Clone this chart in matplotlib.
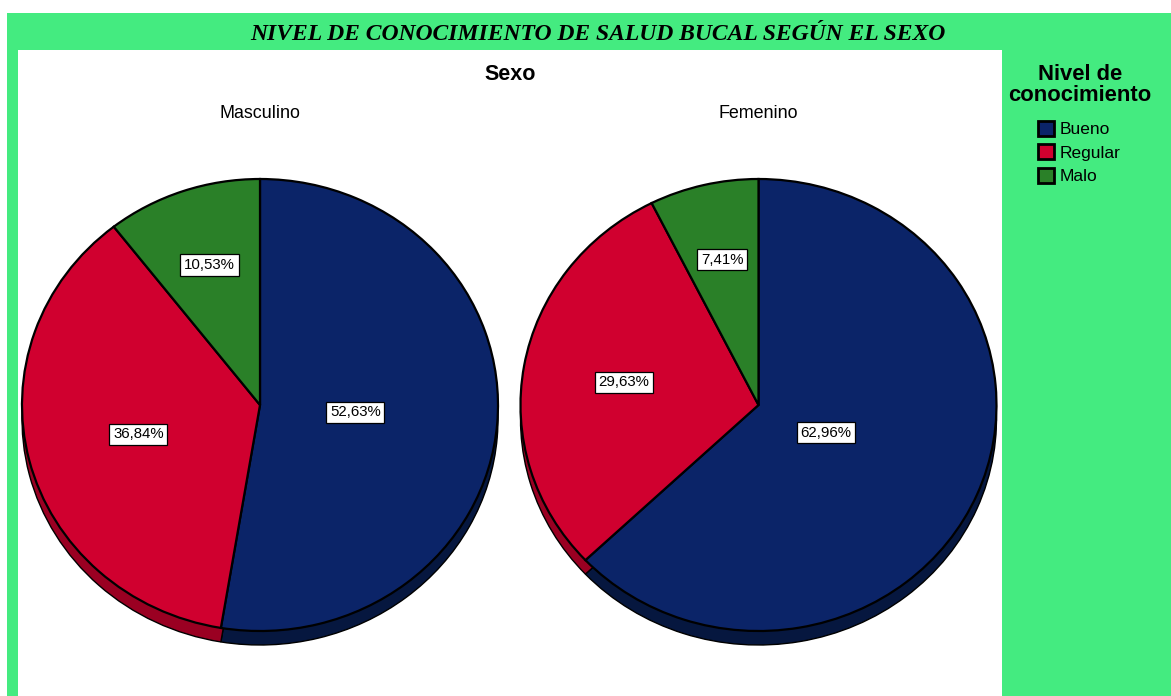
import matplotlib
matplotlib.use("Agg")
import matplotlib.pyplot as plt
from matplotlib.patches import Rectangle
import numpy as np

# ---- data ----
categories = ["Bueno", "Regular", "Malo"]
groups = ["Masculino", "Femenino"]
masculino_pct = [52.63, 36.84, 10.53]
femenino_pct = [62.96, 29.63, 7.41]
pct_labels_masc = ["52,63%", "36,84%", "10,53%"]
pct_labels_fem = ["62,96%", "29,63%", "7,41%"]

chart_title = "NIVEL DE CONOCIMIENTO DE SALUD BUCAL SEGÚN EL SEXO"
panel_title = "Sexo"
legend_title = "Nivel de\nconocimiento"

top_colors = ["#0B2468", "#D0002F", "#2A8028"]
side_colors = ["#06173F", "#9A0022", "#1B5A1A"]
green = "#44EB80"

W, H = 1171, 696
fig = plt.figure(figsize=(W / 100, H / 100), dpi=100)
fig.patch.set_facecolor("white")


def fx(x):
    return x / W


def fy(y):
    return 1 - y / H


fig.add_artist(Rectangle((fx(7), 0), 1 - fx(7), fy(13), transform=fig.transFigure,
                         facecolor=green, edgecolor="none", zorder=-2))
fig.add_artist(Rectangle((fx(18), 0), fx(1002) - fx(18), fy(50), transform=fig.transFigure,
                         facecolor="white", edgecolor="none", zorder=-1))

sans = ["Liberation Sans", "DejaVu Sans"]
fig.text(fx(598), fy(34), chart_title, ha="center", va="center", fontsize=17,
         fontweight="bold", fontstyle="italic", family=["Liberation Serif", "DejaVu Serif"])
fig.text(fx(510), fy(74), panel_title, ha="center", va="center", fontsize=15.5,
         fontweight="bold", family=sans)

centers = [(260, 405), (758.5, 405)]
rx, ry = 238, 226
depth = 14
data = [masculino_pct, femenino_pct]
labels = [pct_labels_masc, pct_labels_fem]

handles = None
for (cx, cy), vals, labs, name in zip(centers, data, labels, groups):
    ax = fig.add_axes([fx(cx - rx), fy(cy + ry), 2 * rx / W, 2 * ry / H])
    ax.axis("off")
    for k in range(1, depth):
        ax.pie(vals, colors=side_colors, startangle=90, counterclock=False,
               center=(0, -k / ry), radius=1,
               wedgeprops=dict(linewidth=0, edgecolor="none", clip_on=False))
    ax.pie(vals, colors=side_colors, startangle=90, counterclock=False,
           center=(0, -depth / ry), radius=1,
           wedgeprops=dict(linewidth=1.0, edgecolor="black", clip_on=False))
    wedges, _ = ax.pie(vals, colors=top_colors, startangle=90, counterclock=False,
                       center=(0, 0), radius=1,
                       wedgeprops=dict(linewidth=1.6, edgecolor="black", clip_on=False))
    if handles is None:
        handles = wedges
    for w, lab in zip(wedges, labs):
        t1, t2 = np.deg2rad(w.theta1), np.deg2rad(w.theta2)
        half = (t2 - t1) / 2
        r = 2 / 3 * np.sin(half) / half
        mid = (t1 + t2) / 2
        ax.text(r * np.cos(mid), r * np.sin(mid), lab, ha="center", va="center",
                fontsize=10.8, family=sans,
                bbox=dict(boxstyle="square,pad=0.25", facecolor="white",
                          edgecolor="black", linewidth=0.9))
    ax.set_aspect("auto")
    ax.set_xlim(-1, 1)
    ax.set_ylim(-1, 1)
    fig.text(fx(cx), fy(113), name, ha="center", va="center", fontsize=12.9, family=sans)

fig.text(fx(1080), fy(85), legend_title, ha="center", va="center", fontsize=15.8,
         fontweight="bold", family=sans, linespacing=1.05, multialignment="center")

leg = fig.legend(handles, categories, loc="upper left",
                 bbox_to_anchor=(fx(1038), fy(121)), frameon=False,
                 prop=dict(family=sans, size=12.5),
                 handlelength=0.95, handleheight=0.95, handletextpad=0.3,
                 labelspacing=0.4, borderpad=0, borderaxespad=0)
for h in leg.legend_handles:
    h.set_linewidth(2)
    h.set_edgecolor("black")

fig.savefig("out.png", dpi=100)
